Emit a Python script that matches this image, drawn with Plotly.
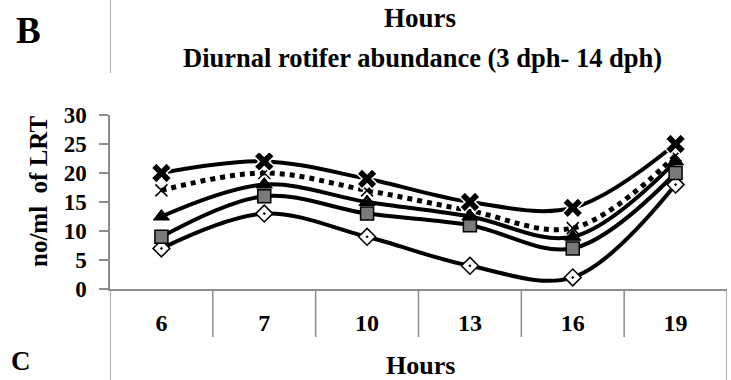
import plotly.graph_objects as go

hours = ["6", "7", "10", "13", "16", "19"]
s_star = [20, 22, 19, 15, 14, 25]
s_x = [17, 20, 17, 13.5, 10.5, 23]
s_tri = [12.5, 18, 15, 12.5, 9, 22]
s_sq = [9, 16, 13, 11, 7, 20]
s_dia = [7, 13, 9, 4, 2, 18]
y_ticks = [0, 5, 10, 15, 20, 25, 30]

W, H = 731, 380
FONT = "Liberation Serif"
GRAY = "#8c8c8c"
xs = list(range(len(hours)))

def px(x):
    return x / W

def py(y):
    return 1 - y / H

fig = go.Figure()

series = [
    (s_dia, "solid", dict(symbol="diamond-dot", size=13, color="white", line=dict(color="black", width=1.5))),
    (s_sq, "solid", dict(symbol="square", size=13, color="#7a7a7a", line=dict(color="black", width=1.5))),
    (s_tri, "solid", dict(symbol="triangle-up", size=14, color="black", line=dict(color="black", width=1))),
    (s_x, "dot", dict(symbol="x-thin-open", size=12, color="black", line=dict(color="#333333", width=1.5))),
    (s_star, "solid", dict(symbol="x", size=18, color="black", line=dict(color="white", width=1.5))),
]

for vals, dash, _ in series:
    fig.add_trace(go.Scatter(
        x=xs, y=vals, mode="lines",
        line=dict(color="black", width=5 if dash == "dot" else 4, dash=dash, shape="spline", smoothing=1.0),
        showlegend=False, hoverinfo="skip",
    ))
for vals, dash, mk in series:
    fig.add_trace(go.Scatter(
        x=xs, y=vals, mode="markers", marker=mk,
        showlegend=False,
    ))

shapes = []
# category separators (multi-level axis frame)
for i in range(len(hours) + 1):
    b = i - 0.5
    outer = i == 0 or i == len(hours)
    shapes.append(dict(type="line", xref="x", yref="paper", x0=b, x1=b,
                       y0=py(289), y1=py(380) if outer else py(337),
                       line=dict(color=GRAY, width=1.5)))
# remnant of upper panel frame
shapes.append(dict(type="line", xref="x", yref="paper", x0=-0.5, x1=-0.5,
                   y0=py(73), y1=1, line=dict(color=GRAY, width=1.5)))

tb = dict(family=FONT, color="black")
annotations = [
    dict(text="<b>B</b>", x=px(28), y=py(30), font=dict(size=37, **tb)),
    dict(text="<b>Hours</b>", x=px(420), y=py(18), font=dict(size=27, **tb)),
    dict(text="<b>Diurnal rotifer abundance (3 dph- 14 dph)</b>", x=px(423), y=py(58), font=dict(size=26.5, **tb)),
    dict(text="<b>no/ml\u00a0 of LRT</b>", x=px(38), y=py(191), textangle=-90, font=dict(size=25, **tb)),
    dict(text="<b>Hours</b>", x=px(420), y=py(365), font=dict(size=26, **tb)),
    dict(text="<b>C</b>", x=px(21), y=py(361), font=dict(size=27, **tb)),
]
for a in annotations:
    a.update(xref="paper", yref="paper", showarrow=False, xanchor="center", yanchor="middle")

fig.update_layout(
    width=W, height=H,
    margin=dict(l=0, r=0, t=0, b=0, autoexpand=False),
    paper_bgcolor="white", plot_bgcolor="white",
    shapes=shapes, annotations=annotations,
    xaxis=dict(domain=[px(110), px(727)], range=[-0.5, len(hours) - 0.5],
               tickvals=xs, ticktext=[f"<b>{h}</b>" for h in hours],
               ticks="", showline=True, linecolor=GRAY, linewidth=1.5,
               showgrid=False, zeroline=False, ticklabelstandoff=11,
               tickfont=dict(size=24, **tb)),
    yaxis=dict(domain=[1 - 289 / H, 1 - 115 / H], range=[0, 30],
               tickvals=y_ticks, ticktext=[f"<b>{v}</b>" for v in y_ticks],
               ticks="outside", ticklen=9, tickwidth=1.5, tickcolor=GRAY,
               showline=True, linecolor=GRAY, linewidth=1.5,
               showgrid=False, zeroline=False, ticklabelstandoff=8,
               tickfont=dict(size=23, **tb)),
)

fig.write_html("out.html")
